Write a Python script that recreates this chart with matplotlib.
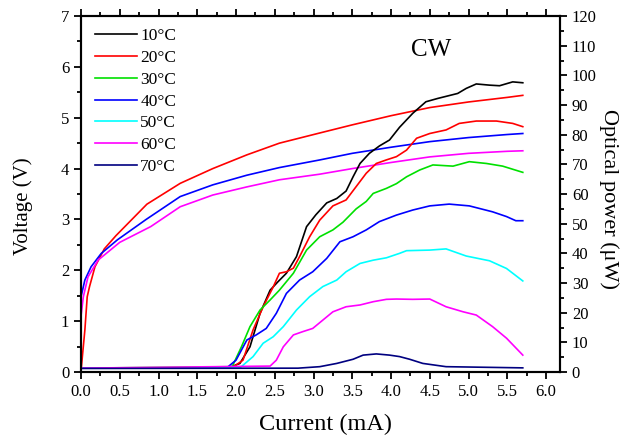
import matplotlib
matplotlib.use("Agg")
import matplotlib.pyplot as plt
from matplotlib.ticker import MultipleLocator, FormatStrFormatter

plt.rcParams['font.family'] = ['Liberation Serif', 'DejaVu Serif']
plt.rcParams['mathtext.fontset'] = 'stix'

labels = ['10°C', '20°C', '30°C', '40°C', '50°C', '60°C', '70°C']
colors = ['black', '#ff0000', '#00e000', '#0000ff', '#00ffff', '#ff00ff', '#000080']

# optical power (uW) vs current (mA)
p10_I = [0, 1.9, 2.05, 2.18, 2.31, 2.44, 2.54, 2.65, 2.78, 2.91, 3.03, 3.17, 3.30, 3.42, 3.51, 3.60,
         3.72, 3.85, 3.98, 4.11, 4.28, 4.45, 4.60, 4.86, 4.97, 5.10, 5.27, 5.40, 5.57, 5.70]
p10_P = [1.3, 1.4, 2.9, 8.5, 19.8, 27.6, 30.4, 33.3, 38.9, 49, 53, 57, 58.5, 61, 65.8, 70.3,
         73.7, 76.2, 78.2, 82.5, 87.2, 91.1, 92.2, 93.9, 95.6, 97.1, 96.7, 96.5, 97.8, 97.5]
p20_I = [0, 1.95, 2.09, 2.22, 2.35, 2.48, 2.56, 2.65, 2.74, 2.82, 2.95, 3.08, 3.25, 3.42, 3.55,
         3.68, 3.81, 3.94, 4.07, 4.20, 4.33, 4.50, 4.71, 4.88, 5.10, 5.36, 5.57, 5.70]
p20_P = [1.3, 1.45, 4, 14.2, 22, 28.7, 33.3, 33.8, 35, 38.9, 45.6, 51.2, 56, 58, 62.5,
         67, 70.3, 71.5, 72.6, 74.8, 78.8, 80.4, 81.6, 83.8, 84.6, 84.6, 83.8, 82.7]
p30_I = [0, 1.95, 2.07, 2.18, 2.31, 2.44, 2.56, 2.74, 2.91, 3.08, 3.25, 3.38, 3.55, 3.68, 3.77,
         3.94, 4.07, 4.20, 4.37, 4.54, 4.80, 5.01, 5.23, 5.44, 5.70]
p30_P = [1.3, 1.8, 8.5, 15.3, 20.9, 24.3, 27.6, 33.3, 41.1, 45.6, 47.9, 50.5, 55, 57.5, 60.2,
         61.9, 63.5, 65.8, 68.1, 69.8, 69.4, 70.9, 70.3, 69.4, 67.3]
p40_I = [0, 1.88, 2.0, 2.14, 2.26, 2.39, 2.52, 2.65, 2.82, 2.99, 3.17, 3.34, 3.51, 3.68, 3.85,
         4.07, 4.28, 4.50, 4.75, 5.01, 5.31, 5.49, 5.61, 5.70]
p40_P = [1.3, 1.4, 4, 10.8, 12.5, 14.7, 19.8, 26.5, 31, 33.8, 38.3, 43.9, 45.6, 47.9, 50.7,
         52.9, 54.6, 56, 56.6, 56, 54, 52.4, 51, 51]
p50_I = [0, 2.05, 2.22, 2.35, 2.48, 2.61, 2.78, 2.95, 3.12, 3.30, 3.42, 3.60, 3.77, 3.94, 4.11,
         4.20, 4.50, 4.71, 4.97, 5.27, 5.49, 5.70]
p50_P = [1.3, 1.4, 5.2, 9.7, 11.9, 15.3, 20.9, 25.4, 28.8, 31, 33.8, 36.6, 37.7, 38.5, 40,
         40.9, 41.1, 41.5, 39.1, 37.5, 34.9, 30.7]
p60_I = [0, 2.44, 2.52, 2.61, 2.74, 2.86, 2.99, 3.12, 3.25, 3.42, 3.60, 3.77, 3.94, 4.07, 4.28,
         4.50, 4.71, 4.93, 5.10, 5.31, 5.49, 5.70]
p60_P = [1.3, 2, 4, 8.5, 12.5, 13.6, 14.7, 17.5, 20.3, 22, 22.6, 23.7, 24.5, 24.6, 24.5,
         24.6, 22, 20.3, 19.2, 15.3, 11.4, 5.7]
p70_I = [0, 2.8, 3.08, 3.30, 3.51, 3.64, 3.81, 3.98, 4.11, 4.24, 4.41, 4.71, 5.70]
p70_P = [1.2, 1.3, 1.8, 2.9, 4.3, 5.7, 6.1, 5.7, 5.2, 4.3, 2.9, 1.8, 1.4]

# voltage (V) vs current (mA) at 20, 40, 60 C
v20_I = [0, 0.05, 0.08, 0.11, 0.18, 0.30, 0.45, 0.65, 0.85, 1.28, 1.70, 2.14, 2.56, 3.08,
         3.5, 4.0, 4.5, 5.0, 5.5, 5.7]
v20_V = [0.02, 0.83, 1.48, 1.68, 2.07, 2.42, 2.68, 2.99, 3.3, 3.71, 4.0, 4.27, 4.50, 4.70,
         4.86, 5.04, 5.2, 5.31, 5.4, 5.44]
v40_I = [0, 0.05, 0.13, 0.26, 0.47, 0.84, 1.28, 1.70, 2.14, 2.56, 3.08, 3.5, 4.0, 4.5, 5.0, 5.5, 5.7]
v40_V = [1.48, 1.81, 2.07, 2.33, 2.6, 3.0, 3.45, 3.68, 3.87, 4.02, 4.17, 4.3, 4.42, 4.53, 4.61, 4.67, 4.69]
v60_I = [0, 0.03, 0.09, 0.22, 0.5, 0.9, 1.28, 1.70, 2.14, 2.56, 3.08, 3.5, 4.0, 4.5, 5.0, 5.5, 5.7]
v60_V = [1.1, 1.48, 1.87, 2.2, 2.55, 2.86, 3.25, 3.48, 3.64, 3.78, 3.89, 4.0, 4.12, 4.23, 4.3, 4.34, 4.35]

power = [(p10_I, p10_P), (p20_I, p20_P), (p30_I, p30_P), (p40_I, p40_P),
         (p50_I, p50_P), (p60_I, p60_P), (p70_I, p70_P)]
volts = [(v20_I, v20_V, colors[1]), (v40_I, v40_V, colors[3]), (v60_I, v60_V, colors[5])]

fig = plt.figure(figsize=(6.29, 4.40), dpi=100)
ax = fig.add_axes([0.1288, 0.1545, 0.7615, 0.8091])
ax2 = ax.twinx()

lw = 1.2
for (x, y, c) in volts:
    ax.plot(x, y, color=c, lw=lw)

handles = []
for (x, y), c, lab in zip(power, colors, labels):
    h, = ax2.plot(x, y, color=c, lw=lw, label=lab)
    handles.append(h)

ax.set_xlim(0, 6.18)
ax.set_ylim(0, 7)
ax2.set_ylim(0, 120)

ax.xaxis.set_major_locator(MultipleLocator(0.5))
ax.xaxis.set_minor_locator(MultipleLocator(0.25))
ax.xaxis.set_major_formatter(FormatStrFormatter('%.1f'))
ax.yaxis.set_major_locator(MultipleLocator(1))
ax.yaxis.set_minor_locator(MultipleLocator(0.5))
ax2.yaxis.set_major_locator(MultipleLocator(10))
ax2.yaxis.set_minor_locator(MultipleLocator(5))

for a in (ax, ax2):
    for s in a.spines.values():
        s.set_linewidth(1.5)
ax.tick_params(which='both', direction='out', top=True, labelsize=12, width=1.3)
ax.tick_params(which='major', length=5)
ax.tick_params(which='minor', length=3)
ax2.tick_params(which='both', direction='out', labelsize=12, width=1.3)
ax2.tick_params(which='major', length=5)
ax2.tick_params(which='minor', length=3)

ax.set_xlabel('Current (mA)', fontsize=17.5, labelpad=10)
ax.set_ylabel('Voltage (V)', fontsize=15, labelpad=20)
ax2.set_ylabel('Optical power (\u03bcW)', fontsize=16, rotation=270, labelpad=16)
ax.xaxis.label.set_x(0.51)
ax.yaxis.label.set_y(0.466)
ax2.yaxis.label.set_y(0.486)

ax2.text(0.73, 0.905, 'CW', transform=ax.transAxes, fontsize=18, ha='center', va='center')

ax2.legend(handles=handles, loc='upper left', bbox_to_anchor=(0.015, 0.985), frameon=False,
           fontsize=12.5, handlelength=2.4, handletextpad=0.2, labelspacing=0.32, borderaxespad=0)

fig.savefig('out.png', dpi=100)
